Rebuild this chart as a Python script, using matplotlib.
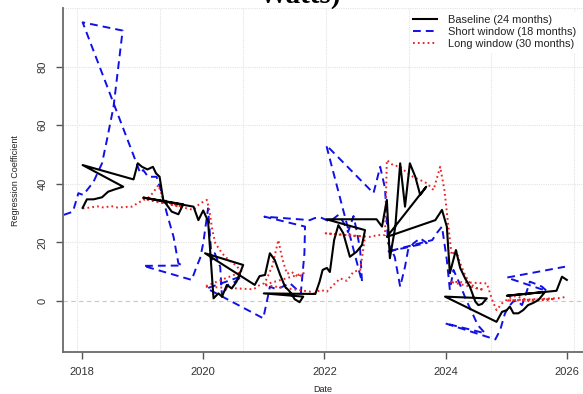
import numpy as np
import matplotlib
matplotlib.use("Agg")
import matplotlib.pyplot as plt
from matplotlib.lines import Line2D

# Rolling regression coefficients, in the row order of the results table
base_t = [2018.01, 2018.08, 2018.19, 2018.33, 2018.43, 2018.54, 2018.68,
          2018.01, 2018.85, 2018.92, 2018.99, 2019.08, 2019.17, 2019.22, 2019.28, 2019.34, 2019.48, 2019.59, 2019.67,
          2019.01, 2019.84, 2019.92, 2020.00, 2020.08, 2020.17, 2020.25, 2020.31, 2020.39, 2020.47, 2020.55, 2020.66,
          2020.03, 2020.85, 2020.93, 2021.02, 2021.10, 2021.18, 2021.27, 2021.35, 2021.43, 2021.51, 2021.59, 2021.65,
          2021.00, 2021.85, 2021.92, 2021.97, 2022.04, 2022.09, 2022.16, 2022.23, 2022.31, 2022.42, 2022.53, 2022.62, 2022.67,
          2022.03, 2022.86, 2022.95, 2023.03, 2023.08, 2023.17, 2023.25, 2023.33, 2023.41, 2023.50, 2023.58, 2023.68,
          2023.03, 2023.83, 2023.94, 2024.02, 2024.07, 2024.17, 2024.24, 2024.32, 2024.40, 2024.49, 2024.54, 2024.60, 2024.68,
          2023.99, 2024.84, 2024.93, 2025.01, 2025.06, 2025.12, 2025.20, 2025.28, 2025.36, 2025.44, 2025.53, 2025.64,
          2025.01, 2025.83, 2025.92, 2026.00]
base_v = [31.8, 34.7, 34.7, 35.4, 37.3, 38.1, 39.0,
          46.4, 41.5, 47.0, 45.8, 44.9, 45.8, 43.6, 42.4, 34.5, 30.5, 29.6, 33.0,
          35.3, 32.2, 27.6, 30.9, 27.3, 0.9, 2.6, 1.5, 5.5, 4.3, 6.6, 12.3,
          16.3, 5.5, 8.5, 8.9, 16.3, 14.0, 8.9, 4.9, 3.2, 0.6, -0.4, 1.5,
          2.6, 2.4, 6.6, 10.6, 11.3, 9.9, 20.8, 25.9, 23.2, 15.1, 16.8, 19.1, 24.2,
          27.9, 27.9, 25.4, 34.5, 14.6, 25.4, 47.0, 32.2, 47.0, 42.4, 36.2, 39.0,
          21.9, 27.6, 31.1, 25.4, 9.5, 17.4, 11.3, 7.8, 4.9, -0.2, -1.4, -1.0, 0.9,
          1.5, -7.1, -3.7, -3.1, -1.9, -4.2, -4.2, -3.1, -1.4, -0.7, 0.3, 3.1,
          1.8, 3.5, 8.3, 7.2]

short_t = [2017.70, 2017.85, 2017.94, 2018.02, 2018.19, 2018.33, 2018.41, 2018.52, 2018.67,
           2018.01, 2018.90, 2018.96, 2019.01, 2019.09, 2019.23, 2019.30, 2019.40, 2019.51, 2019.59, 2019.65,
           2019.01, 2019.81, 2019.89, 2019.95, 2020.00, 2020.08, 2020.14, 2020.19, 2020.28, 2020.31, 2020.41, 2020.52, 2020.64,
           2020.06, 2020.99, 2021.05, 2021.10, 2021.20, 2021.30, 2021.43, 2021.55, 2021.61, 2021.67, 2021.68,
           2021.01, 2021.76, 2021.84, 2021.93, 2022.09, 2022.23, 2022.31, 2022.39, 2022.48, 2022.54, 2022.59, 2022.62,
           2022.03, 2022.81, 2022.92, 2023.00, 2023.05, 2023.16, 2023.25, 2023.33, 2023.38, 2023.47, 2023.58, 2023.69,
           2023.03, 2023.78, 2023.85, 2023.94, 2024.02, 2024.07, 2024.13, 2024.24, 2024.34, 2024.44, 2024.53, 2024.65,
           2023.99, 2024.82, 2024.90, 2024.98, 2025.05, 2025.11, 2025.17, 2025.26, 2025.33, 2025.39, 2025.49, 2025.59, 2025.67,
           2025.01, 2025.97]
short_v = [29.4, 30.5, 36.8, 36.2, 40.7, 47.0, 54.9, 66.3, 92.3,
           95.1, 47.0, 43.6, 44.7, 42.4, 42.4, 37.9, 29.9, 21.9, 12.9, 12.1,
           12.0, 7.2, 11.7, 14.7, 19.7, 31.6, 14.0, 16.3, 11.7, 1.5, 5.5, 6.5, 8.5,
           4.3, -5.9, -0.2, 4.9, 4.1, 4.8, 6.1, 3.8, 2.6, 16.3, 25.4,
           28.8, 27.6, 28.3, 28.6, 27.1, 29.4, 27.0, 23.5, 29.0, 23.2, 17.4, 6.5,
           53.2, 36.8, 45.8, 38.5, 19.8, 15.1, 4.9, 11.7, 17.4, 19.7, 21.4, 19.8,
           16.8, 20.8, 23.1, 25.4, 14.0, 3.8, 10.6, 5.5, 0.3, -4.1, -8.2, -11.0,
           -7.6, -13.1, -9.9, -4.2, -1.7, -0.3, 0.3, -1.4, 2.7, 6.6, 5.8, 4.9, 3.4,
           8.0, 11.7]

long_t = [2018.01, 2018.13, 2018.25, 2018.36, 2018.48, 2018.59, 2018.71, 2018.82, 2018.96,
          2019.09, 2019.17, 2019.26, 2019.34, 2019.45, 2019.56, 2019.66, 2019.01, 2019.84, 2019.92, 2020.00,
          2020.06, 2020.10, 2020.15, 2020.20, 2020.31, 2020.42, 2020.53, 2020.64, 2020.02, 2020.83, 2020.92, 2021.00,
          2021.05, 2021.14, 2021.24, 2021.29, 2021.33, 2021.38, 2021.46, 2021.57, 2021.66, 2021.00, 2021.76, 2021.84, 2021.93,
          2022.04, 2022.15, 2022.26, 2022.37, 2022.48, 2022.59, 2022.67, 2022.02, 2022.75, 2022.88, 2023.00,
          2023.03, 2023.13, 2023.25, 2023.35, 2023.46, 2023.58, 2023.69, 2023.80, 2023.91, 2023.98,
          2024.04, 2024.10, 2024.17, 2024.24, 2024.32, 2024.40, 2024.50, 2024.63, 2024.07, 2024.68, 2024.77, 2024.84,
          2024.93, 2025.04, 2025.15, 2025.26, 2025.39, 2025.52, 2025.66, 2025.80, 2025.01, 2025.89, 2026.00]
long_v = [31.6, 31.9, 32.3, 31.9, 32.4, 31.9, 32.1, 32.2, 33.9,
          35.2, 36.9, 39.6, 34.8, 33.4, 32.8, 32.1, 35.0, 31.1, 32.8, 33.9,
          34.5, 31.1, 24.2, 19.7, 16.3, 14.0, 12.3, 10.0, 4.9, 4.0, 5.3, 6.0,
          7.6, 12.0, 20.8, 15.7, 12.7, 9.3, 9.9, 8.2, 9.5, 5.5, 3.2, 2.6, 3.8,
          3.2, 5.5, 7.7, 6.9, 10.0, 10.6, 21.9, 23.1, 21.9, 22.5, 22.5,
          48.1, 46.4, 45.8, 44.0, 42.4, 41.3, 40.2, 37.9, 45.8, 37.9,
          26.5, 15.7, 17.4, 12.9, 8.9, 6.1, 4.4, 3.8, 6.6, 6.0, 0.3, -3.1,
          -0.8, 0.9, 1.7, 1.0, -0.2, 0.3, 0.3, 0.7, 0.2, 1.0, 1.5]

series_labels = ["Baseline (24 months)", "Short window (18 months)", "Long window (30 months)"]
x_ticks = [2018, 2020, 2022, 2024, 2026]
y_ticks = [0, 20, 40, 60, 80]
grid_days = [17500, 18000, 18500, 19000, 19500, 20000, 20500]  # days since 1970-01-01

SANS = ["Liberation Sans", "DejaVu Sans"]
plt.rcParams["font.family"] = SANS

W, H = 583, 394
fig = plt.figure(figsize=(W / 100, H / 100), dpi=100)
ax = fig.add_axes([63 / W, 42 / H, 1 - 63 / W, (352 - 8) / H])
ax.set_xlim(2017.686, 2026.267)
ax.set_ylim(-17.4, 100.0)

# grid: vertical lines at round day counts, horizontal at the y ticks
def day_to_year(d):
    d2018 = 17532.0
    return 2018 + (d - d2018) / 365.25

for d in grid_days:
    ax.axvline(day_to_year(d), color="#e3e3e3", lw=0.8, ls=(0, (1, 1)), zorder=0)
for y in y_ticks[1:] + [100]:
    ax.axhline(y, color="#e3e3e3", lw=0.8, ls=(0, (1, 1)), zorder=0)
ax.axhline(0, color="#c8c8c8", lw=0.8, ls=(0, (4, 3)), zorder=0)

ax.plot(short_t, short_v, color="#1010e8", lw=1.4, ls=(0, (4, 2.6)), zorder=2)
ax.plot(long_t, long_v, color="#ee2222", lw=1.4, ls=(0, (0.9, 1.6)), zorder=2)
ax.plot(base_t, base_v, color="black", lw=1.5, zorder=3)

for side in ["top", "right"]:
    ax.spines[side].set_visible(False)
ax.spines["left"].set_color("#6a6a6a")
ax.spines["bottom"].set_color("#6a6a6a")
ax.spines["left"].set_linewidth(1.3)
ax.spines["bottom"].set_linewidth(1.3)

ax.set_xticks(x_ticks)
ax.set_xticklabels([str(v) for v in x_ticks])
ax.set_yticks(y_ticks)
ax.set_yticklabels([str(v) for v in y_ticks], rotation=90, va="center")
ax.tick_params(axis="both", colors="#555555", labelcolor="#333333", labelsize=8, length=5, width=1.0)
ax.tick_params(axis="x", pad=6)
ax.tick_params(axis="y", pad=6)

fig.text(323 / W, 1 - 389 / H, "Date", ha="center", va="center", fontsize=6.5, color="#222222")
fig.text(16 / W, 1 - 181 / H, "Regression Coefficient", ha="center", va="center",
         rotation=90, fontsize=6.5, color="#222222")

# second title line, cut by the top edge
fig.text(300 / W, 1 - 2.5 / H, "Watts)", ha="center", va="baseline", fontsize=21,
         fontweight="bold", family=["Liberation Serif", "DejaVu Serif"], color="black")

handles = [Line2D([], [], color="black", lw=1.5),
           Line2D([], [], color="#1010e8", lw=1.4, ls=(0, (4, 2.6))),
           Line2D([], [], color="#ee2222", lw=1.4, ls=(0, (0.9, 1.6)))]
leg = ax.legend(handles, series_labels, loc="upper left", bbox_to_anchor=(410 / W, 1 - 12 / H),
                bbox_transform=fig.transFigure, frameon=True, fontsize=7.9, handlelength=2.2,
                handletextpad=1.0, labelspacing=0.18, borderpad=0.3, borderaxespad=0)
leg.get_frame().set_facecolor("white")
leg.get_frame().set_edgecolor("none")
leg.get_frame().set_alpha(1.0)
for t in leg.get_texts():
    t.set_color("#222222")

fig.savefig("out.png", dpi=100)
